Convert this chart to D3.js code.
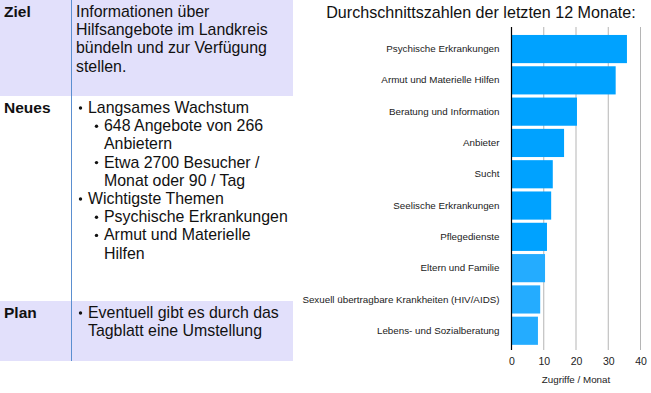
<!DOCTYPE html>
<html>
<head>
<meta charset="utf-8">
<script src="https://cdn.jsdelivr.net/npm/d3@7"></script>
<style>
  body { margin: 0; background: #fff; }
  svg { display: block; font-family: "Liberation Sans", Arial, Helvetica, sans-serif; }
</style>
</head>
<body>
<div id="chart"></div>
<script>
// Categories and monthly averages (Zugriffe / Monat)
const categories = [
    "Psychische Erkrankungen",
    "Armut und Materielle Hilfen",
    "Beratung und Information",
    "Anbieter",
    "Sucht",
    "Seelische Erkrankungen",
    "Pflegedienste",
    "Eltern und Familie",
    "Sexuell übertragbare Krankheiten (HIV/AIDS)",
    "Lebens- und Sozialberatung"
];
const values = [35.8, 32.3, 20.3, 16.3, 12.8, 12.3, 11.0, 10.4, 8.9, 8.2];
const xTicks = [0, 10, 20, 30, 40];

// Left table rows: label, lines [indent level (0 = plain, 1/2 = bullet, negative = continuation), text]
const rowLabels = ["Ziel", "Neues", "Plan"];
const rowLines = [
    [[0, "Informationen über"], [0, "Hilfsangebote im Landkreis"], [0, "bündeln und zur Verfügung"], [0, "stellen."]],
    [[1, "Langsames Wachstum"], [2, "648 Angebote von 266"], [-2, "Anbietern"], [2, "Etwa 2700 Besucher /"], [-2, "Monat oder 90 / Tag"],
     [1, "Wichtigste Themen"], [2, "Psychische Erkrankungen"], [2, "Armut und Materielle"], [-2, "Hilfen"]],
    [[1, "Eventuell gibt es durch das"], [-1, "Tagblatt eine Umstellung"]]
];

const W = 651, H = 393;
const svg = d3.select("#chart").append("svg")
    .attr("width", W)
    .attr("height", H);

// ---- Table ----
const rowTops = [0, 96, 301];
const rowBottoms = [96, 301, 361];
const shaded = [true, false, true];
const lineH = 18.2;
const table = svg.append("g");

rowLabels.forEach((lab, i) => {
    if (shaded[i]) {
        table.append("rect")
            .attr("x", 0).attr("y", rowTops[i])
            .attr("width", 293).attr("height", rowBottoms[i] - rowTops[i])
            .attr("fill", "#e2e0fb");
    }
    table.append("text")
        .attr("x", 4).attr("y", rowTops[i] + 17)
        .attr("font-size", 15.5).attr("font-weight", "bold")
        .attr("fill", "#111")
        .text(lab);

    rowLines[i].forEach((ln, j) => {
        const lvl = Math.abs(ln[0]);
        const y = rowTops[i] + 17 + j * lineH;
        const textX = lvl === 0 ? 76 : (lvl === 1 ? 88 : 104);
        if (ln[0] > 0) {
            table.append("circle")
                .attr("cx", textX - 7.5).attr("cy", y - 5)
                .attr("r", 1.7).attr("fill", "#111");
        }
        table.append("text")
            .attr("x", textX).attr("y", y)
            .attr("font-size", 15.9).attr("fill", "#111")
            .text(ln[1]);
    });
});

table.append("line")
    .attr("x1", 71.5).attr("x2", 71.5)
    .attr("y1", 0).attr("y2", 361)
    .attr("stroke", "#5b8fd0").attr("stroke-width", 1);

// ---- Bar chart ----
const x = d3.scaleLinear().domain([0, 40]).range([511.5, 640.5]);
const y = d3.scaleBand().domain(categories).range([33.4, 346.4])
    .paddingInner(0.1).paddingOuter(0.05);

svg.append("text")
    .attr("x", 481).attr("y", 18)
    .attr("text-anchor", "middle")
    .attr("font-size", 16.1).attr("fill", "#111")
    .text("Durchschnittszahlen der letzten 12 Monate:");

// gridlines
svg.append("g").selectAll("line")
    .data(xTicks.slice(1))
    .join("line")
    .attr("x1", d => x(d)).attr("x2", d => x(d))
    .attr("y1", 27).attr("y2", 350)
    .attr("stroke", "#b5b5b5").attr("stroke-width", 1);

// bars
svg.append("g").selectAll("rect")
    .data(categories)
    .join("rect")
    .attr("x", x(0))
    .attr("y", d => y(d))
    .attr("width", (d, i) => x(values[i]) - x(0))
    .attr("height", y.bandwidth())
    .attr("fill", (d, i) => i < 7 ? "#00a2ff" : "#24acff");

// y labels
const yAxis = d3.axisLeft(y).tickSize(0).tickPadding(12);
const yG = svg.append("g")
    .attr("transform", `translate(${x(0)},0)`)
    .call(yAxis);
yG.select(".domain").remove();
yG.selectAll("text")
    .attr("font-size", 9.8)
    .attr("font-family", "'Liberation Sans', Arial, sans-serif")
    .attr("fill", "#222");

// zero axis line
svg.append("line")
    .attr("x1", x(0)).attr("x2", x(0))
    .attr("y1", 27).attr("y2", 350)
    .attr("stroke", "#000").attr("stroke-width", 1.2);

// x tick labels
const xAxis = d3.axisBottom(x).tickValues(xTicks).tickSize(0).tickPadding(8);
const xG = svg.append("g")
    .attr("transform", "translate(0,350)")
    .call(xAxis);
xG.select(".domain").remove();
xG.selectAll("text")
    .attr("font-size", 10.5)
    .attr("font-family", "'Liberation Sans', Arial, sans-serif")
    .attr("fill", "#222");

svg.append("text")
    .attr("x", x(20)).attr("y", 383)
    .attr("text-anchor", "middle")
    .attr("font-size", 9.8).attr("fill", "#222")
    .text("Zugriffe / Monat");
</script>
</body>
</html>
